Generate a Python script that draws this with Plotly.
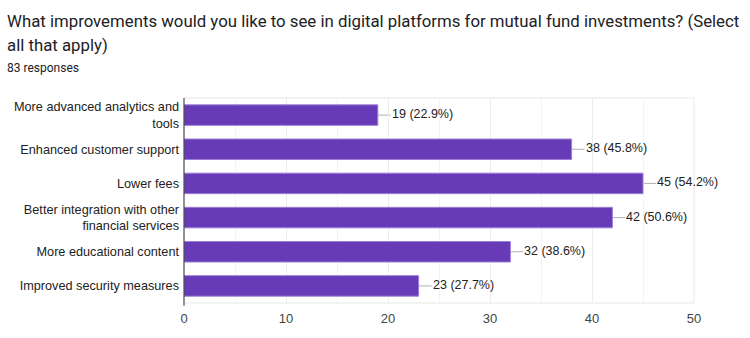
import plotly.graph_objects as go

categories = [
    "More advanced analytics and<br>tools",
    "Enhanced customer support",
    "Lower fees",
    "Better integration with other<br>financial services",
    "More educational content",
    "Improved security measures",
]
counts = [19, 38, 45, 42, 32, 23]
percents = ["22.9%", "45.8%", "54.2%", "50.6%", "38.6%", "27.7%"]
x_ticks = [0, 10, 20, 30, 40, 50]
title_lines = ["What improvements would you like to see in digital platforms for mutual fund investments? (Select",
               "all that apply)"]
subtitle = "83 responses"

TFONT = "Roboto, Arial, sans-serif"
CFONT = "Arial, 'Liberation Sans', sans-serif"
L, R, T, B = 184, 56, 98, 23
PW, PH = 750 - L - R, 338 - T - B

fig = go.Figure()
fig.add_trace(go.Bar(
    y=categories, x=counts, orientation="h",
    marker=dict(color="#673ab7", line=dict(color="#9c7fd6", width=1)),
    width=0.6, hoverinfo="skip",
))

for c, v, p in zip(categories, counts, percents):
    fig.add_shape(type="line", xref="x", yref="y", xsizemode="pixel", xanchor=v,
                  x0=0, x1=13, y0=c, y1=c, line=dict(color="#b0b0b0", width=1), layer="below")
    fig.add_annotation(x=v, y=c, xref="x", yref="y", text=f"{v} ({p})", showarrow=False,
                       xanchor="left", xshift=12, yshift=1,
                       font=dict(family=CFONT, size=12.5, color="#222222"))

# light frame around plot area
fig.add_shape(type="rect", xref="paper", yref="paper", x0=0, x1=1, y0=0, y1=1,
              line=dict(color="#e8e8e8", width=1), layer="below")
# left axis line extending slightly below the plot
fig.add_shape(type="line", xref="paper", yref="paper", x0=0, x1=0, y0=-3/PH, y1=1,
              line=dict(color="#333333", width=1))

def px_x(px):
    return (px - L) / PW

def px_y(py):
    return 1 + (T - py) / PH

fig.add_annotation(xref="paper", yref="paper", x=px_x(5), y=px_y(16),
                   text=title_lines[0], showarrow=False, xanchor="left", yanchor="middle",
                   font=dict(family=TFONT, size=16.8, color="#202124"))
fig.add_annotation(xref="paper", yref="paper", x=px_x(5), y=px_y(42),
                   text=title_lines[1], showarrow=False, xanchor="left", yanchor="middle",
                   font=dict(family=TFONT, size=16.8, color="#202124"))
fig.add_annotation(xref="paper", yref="paper", x=px_x(5), y=px_y(66),
                   text=subtitle, showarrow=False, xanchor="left", yanchor="middle",
                   font=dict(family=TFONT, size=12, color="#202124"))

fig.update_layout(
    width=750, height=338,
    margin=dict(l=L, r=R, t=T, b=B, pad=0),
    plot_bgcolor="white", paper_bgcolor="white",
    showlegend=False, bargap=0.4,
    xaxis=dict(range=[0, 50], tickvals=x_ticks, showgrid=True, gridcolor="#ececec",
               minor=dict(dtick=5, showgrid=True, gridcolor="#f3f3f3"),
               zeroline=False, showline=False, ticks="", ticklen=0, ticklabelstandoff=6,
               tickfont=dict(family=CFONT, size=13, color="#444444")),
    yaxis=dict(autorange="reversed", showline=False,
               ticks="", showgrid=False, ticklabelstandoff=4,
               tickfont=dict(family=CFONT, size=12.7, color="#222222")),
)
fig.write_html("out.html")
